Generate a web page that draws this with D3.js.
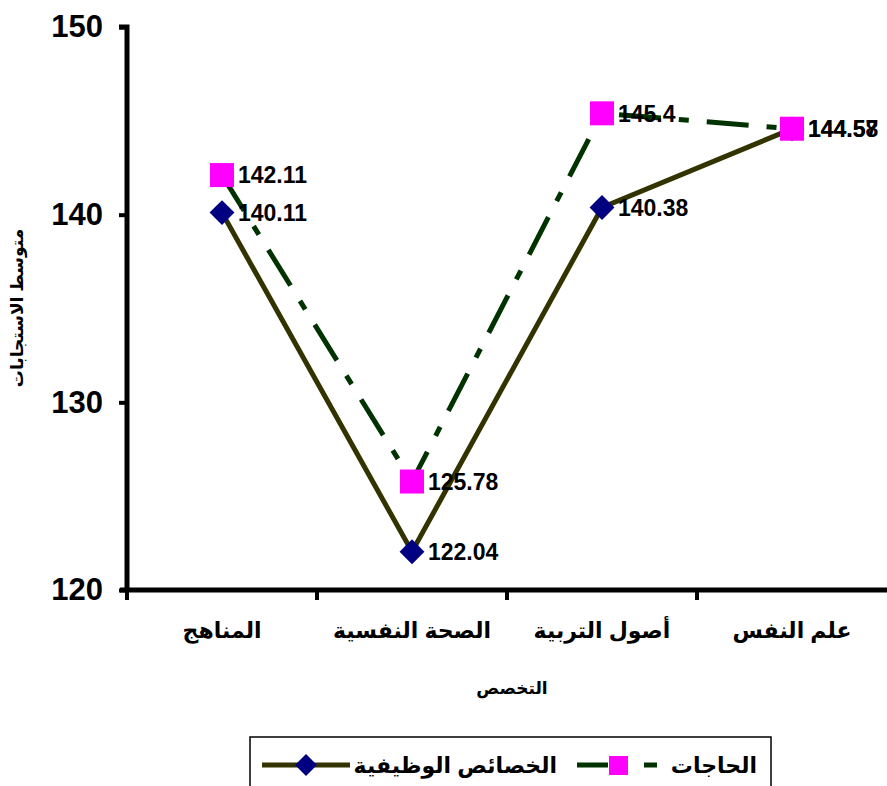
<!DOCTYPE html>
<html lang="ar">
<head>
<meta charset="utf-8">
<script src="https://cdn.jsdelivr.net/npm/d3@7"></script>
<style>
  html, body { margin: 0; padding: 0; background: #fff; }
  svg { display: block; }
  text { font-family: "Liberation Sans", Arial, "DejaVu Sans", sans-serif; font-weight: bold; fill: #000; }
</style>
</head>
<body>
<svg id="chart" width="887" height="786"></svg>
<script>
// Specialisations along the x axis
const categories = ["المناهج", "الصحة النفسية", "أصول التربية", "علم النفس"];
// Mean responses per specialisation
const functionalValues = [140.11, 122.04, 140.38, 144.57]; // الخصائص الوظيفية
const needsValues = [142.11, 125.78, 145.4, 144.58];       // الحاجات
const yTicks = [120, 130, 140, 150];
const seriesNames = ["الخصائص الوظيفية", "الحاجات"];
const xTitle = "التخصص";
const yTitle = "متوسط الاستجابات";

const svg = d3.select("#chart");

const x = d3.scaleBand().domain(categories).range([127, 887]);
const y = d3.scaleLinear().domain([120, 150]).range([590, 27]);
const cx = c => x(c) + x.bandwidth() / 2;

// Y axis
const yAxis = svg.append("g").attr("transform", "translate(127,0)")
  .call(d3.axisLeft(y).tickValues(yTicks).tickSize(8).tickPadding(16).tickFormat(d3.format("d")));
yAxis.select(".domain").attr("stroke", "#000").attr("stroke-width", 5)
  .attr("d", `M-8,${y(150)}H0V${y(120)}`);
yAxis.selectAll(".tick line").attr("stroke", "#000").attr("stroke-width", 4);
yAxis.selectAll(".tick text").attr("font-size", 31).attr("font-family", "Liberation Sans, Arial, sans-serif").attr("font-weight", "bold").attr("fill", "#000");

// X axis: line, ticks between categories, centred labels
const xAxis = svg.append("g").attr("transform", `translate(0,${y(120)})`);
xAxis.append("line").attr("x1", 120).attr("x2", 887).attr("y1", 0).attr("y2", 0)
  .attr("stroke", "#000").attr("stroke-width", 5);
xAxis.selectAll("line.tk").data(categories).join("line").attr("class", "tk")
  .attr("x1", d => x(d)).attr("x2", d => x(d)).attr("y1", 0).attr("y2", 10)
  .attr("stroke", "#000").attr("stroke-width", 4);
xAxis.selectAll("text.cat").data(categories).join("text").attr("class", "cat")
  .attr("x", d => cx(d)).attr("y", 48).attr("text-anchor", "middle")
  .attr("font-size", 22)
  .text(d => d);

// Axis titles
svg.append("text").attr("x", 512).attr("y", 694).attr("text-anchor", "middle")
  .attr("font-size", 17).text(xTitle);
svg.append("text").attr("transform", "translate(23,308) rotate(-90)").attr("text-anchor", "middle")
  .attr("font-size", 17).text(yTitle);

// Lines
const line = d3.line().x((d, i) => cx(categories[i])).y(d => y(d));
svg.append("path").datum(functionalValues).attr("d", line)
  .attr("fill", "none").attr("stroke", "#333300").attr("stroke-width", 5);
svg.append("path").datum(needsValues).attr("d", line)
  .attr("fill", "none").attr("stroke", "#003300").attr("stroke-width", 5)
  .attr("stroke-dasharray", "42,18,10,18");

// Markers
svg.selectAll("path.dia").data(functionalValues).join("path").attr("class", "dia")
  .attr("d", d3.symbol().type(d3.symbolSquare).size(310))
  .attr("transform", (d, i) => `translate(${cx(categories[i])},${y(d)}) rotate(45)`)
  .attr("fill", "#000080");
svg.selectAll("rect.sq").data(needsValues).join("rect").attr("class", "sq")
  .attr("x", (d, i) => cx(categories[i]) - 12).attr("y", d => y(d) - 12)
  .attr("width", 24).attr("height", 24).attr("fill", "#ff00ff");

// Value labels
svg.selectAll("text.v1").data(functionalValues).join("text").attr("class", "v1")
  .attr("x", (d, i) => cx(categories[i]) + 16).attr("y", d => y(d)).attr("dy", "0.36em")
  .attr("font-size", 23).text(d => d);
svg.selectAll("text.v2").data(needsValues).join("text").attr("class", "v2")
  .attr("x", (d, i) => cx(categories[i]) + 16).attr("y", d => y(d)).attr("dy", "0.36em")
  .attr("font-size", 23).text(d => d);

// Legend
const lg = svg.append("g");
lg.append("rect").attr("x", 250).attr("y", 737).attr("width", 521).attr("height", 80)
  .attr("fill", "#fff").attr("stroke", "#000").attr("stroke-width", 1.5);
// الحاجات (right item)
lg.append("text").attr("x", 757).attr("y", 765).attr("dy", "0.36em").attr("text-anchor", "end")
  .attr("font-size", 22).text(seriesNames[1]);
lg.append("line").attr("x1", 577).attr("x2", 657).attr("y1", 765).attr("y2", 765)
  .attr("stroke", "#003300").attr("stroke-width", 5).attr("stroke-dasharray", "31,36,13,0");
lg.append("rect").attr("x", 609).attr("y", 756).attr("width", 19).attr("height", 19).attr("fill", "#ff00ff");
// الخصائص الوظيفية (left item)
lg.append("text").attr("x", 557).attr("y", 765).attr("dy", "0.36em").attr("text-anchor", "end")
  .attr("font-size", 22).text(seriesNames[0]);
lg.append("line").attr("x1", 262).attr("x2", 350).attr("y1", 765).attr("y2", 765)
  .attr("stroke", "#333300").attr("stroke-width", 5);
lg.append("path").attr("d", d3.symbol().type(d3.symbolSquare).size(240))
  .attr("transform", "translate(306,765) rotate(45)").attr("fill", "#000080");
</script>
</body>
</html>
